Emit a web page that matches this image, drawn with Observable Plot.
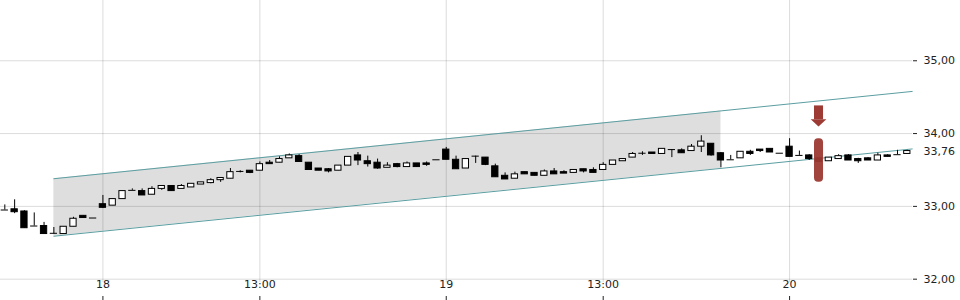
<!DOCTYPE html>
<html>
<head>
<meta charset="utf-8">
<script src="https://cdn.jsdelivr.net/npm/d3@7"></script>
<script src="https://cdn.jsdelivr.net/npm/@observablehq/plot@0.6"></script>
<style>
  html, body { margin: 0; padding: 0; background: #fff; }
  #chart { width: 960px; height: 300px; }
</style>
</head>
<body>
<div id="chart"></div>
<script>
// 15-minute candles, index 0 = first visible candle
const opens  = [32.95,32.96,32.93,32.73,32.73,32.63,32.62,32.72,32.87,32.84,
                33.03,33.01,33.10,33.22,33.21,33.16,33.24,33.28,33.24,33.26,
                33.30,33.32,33.36,33.38,33.48,33.49,33.49,33.60,33.60,33.66,
                33.69,33.60,33.52,33.51,33.49,33.56,33.70,33.62,33.60,33.53,
                33.58,33.54,33.59,33.59,33.64,33.78,33.64,33.52,33.69,33.67,
                33.55,33.42,33.38,33.47,33.46,33.42,33.48,33.47,33.46,33.51,
                33.50,33.50,33.57,33.62,33.67,33.73,33.74,33.72,33.78,33.77,
                33.76,33.82,33.86,33.73,33.64,33.66,33.75,33.78,33.79,33.73,
                33.82,33.70,33.70,33.66,33.62,33.65,33.70,33.65,33.66,33.63,
                33.70,33.71,33.72];
const highs  = [33.02,33.09,32.94,32.91,32.78,32.71,32.72,32.85,32.87,32.84,
                33.15,33.10,33.21,33.24,33.24,33.27,33.28,33.28,33.30,33.31,
                33.33,33.38,33.39,33.52,33.49,33.49,33.61,33.63,33.68,33.72,
                33.71,33.60,33.52,33.52,33.56,33.68,33.74,33.69,33.65,33.60,
                33.59,33.61,33.59,33.61,33.64,33.81,33.69,33.65,33.69,33.67,
                33.58,33.46,33.47,33.47,33.46,33.50,33.52,33.49,33.50,33.51,
                33.53,33.60,33.63,33.65,33.74,33.75,33.74,33.79,33.78,33.79,
                33.85,33.97,33.86,33.74,33.70,33.75,33.77,33.78,33.79,33.73,
                33.93,33.76,33.71,33.66,33.67,33.71,33.71,33.66,33.67,33.73,
                33.71,33.77,33.77];
const lows   = [32.95,32.90,32.70,32.73,32.62,32.62,32.62,32.72,32.84,32.84,
                32.97,33.01,33.10,33.22,33.15,33.16,33.22,33.21,33.24,33.26,
                33.30,33.31,33.33,33.38,33.46,33.45,33.49,33.58,33.60,33.66,
                33.61,33.50,33.49,33.46,33.49,33.56,33.56,33.54,33.51,33.53,
                33.53,33.54,33.54,33.55,33.64,33.64,33.51,33.52,33.59,33.56,
                33.40,33.37,33.38,33.44,33.42,33.42,33.44,33.45,33.46,33.46,
                33.46,33.50,33.57,33.62,33.67,33.70,33.72,33.72,33.67,33.73,
                33.76,33.74,33.69,33.53,33.64,33.66,33.70,33.74,33.74,33.73,
                33.68,33.70,33.63,33.61,33.62,33.65,33.63,33.59,33.63,33.63,
                33.68,33.71,33.72];
const closes = [32.95,32.92,32.70,32.73,32.62,32.63,32.72,32.83,32.84,32.84,
                32.98,33.10,33.21,33.22,33.15,33.24,33.28,33.21,33.28,33.31,
                33.33,33.36,33.39,33.47,33.48,33.46,33.58,33.58,33.65,33.70,
                33.61,33.50,33.49,33.48,33.56,33.68,33.63,33.58,33.52,33.56,
                33.54,33.59,33.54,33.57,33.64,33.64,33.51,33.65,33.69,33.57,
                33.40,33.37,33.44,33.44,33.42,33.48,33.44,33.45,33.50,33.48,
                33.46,33.57,33.63,33.65,33.72,33.73,33.72,33.79,33.78,33.73,
                33.82,33.89,33.70,33.63,33.64,33.75,33.72,33.76,33.74,33.73,
                33.68,33.70,33.65,33.61,33.67,33.69,33.63,33.62,33.63,33.70,
                33.68,33.71,33.76];

// x-axis ticks (candle index) and labels
const xTickIdx    = [10, 26, 45, 61, 80];
const xTickLabels = ["18", "13:00", "19", "13:00", "20"];
const yTicks      = [32, 33, 34, 35];

// trend channel (regression channel)
const channelStartIdx = 5;
const channelShadeEndIdx = 73;
const channelLineEndIdx = 92.5;
const channelLowerAtStart = 32.59;
const channelUpperAtStart = 33.38;
const channelSlope = 0.0137; // per candle

// signal marker
const markerIdx = 83;
const markerLow = 33.33, markerHigh = 33.93;
const arrowTop = 34.38, arrowNeck = 34.19, arrowTip = 34.09;

const candles = opens.map((o, i) => ({i, open: o, high: highs[i], low: lows[i], close: closes[i]}));
const xTicks = xTickIdx.map((i, k) => ({i, label: xTickLabels[k]}));
const chan = i => ({i, lower: channelLowerAtStart + channelSlope * (i - channelStartIdx),
                       upper: channelUpperAtStart + channelSlope * (i - channelStartIdx)});
const shade = [chan(channelStartIdx), chan(channelShadeEndIdx)];
const chanLine = [chan(channelStartIdx), chan(channelLineEndIdx)];
const fmt = d => d.toFixed(2).replace(".", ",");
const last = candles[candles.length - 1];

const bw = 0.32;
const red = "#9c3a33";
const teal = "#5b9ea1";

const chart = Plot.plot({
  width: 960,
  height: 300,
  marginLeft: 0,
  marginRight: 48,
  marginTop: 0,
  marginBottom: 4,
  x: {type: "linear", domain: [-0.44, 92.53], axis: null, label: null},
  y: {domain: [31.762, 35.828], axis: null, label: null},
  style: {fontFamily: "DejaVu Sans", fontSize: "11px", color: "#222", background: "#fff"},
  marks: [
    Plot.areaY(shade, {x: "i", y1: "lower", y2: "upper", fill: "#dedede"}),
    Plot.gridY(yTicks, {stroke: "#000", strokeOpacity: 0.14}),
    Plot.gridX(xTickIdx, {stroke: "#000", strokeOpacity: 0.14, insetBottom: 14}),
    Plot.line(chanLine, {x: "i", y: "lower", stroke: teal, strokeWidth: 1}),
    Plot.line(chanLine, {x: "i", y: "upper", stroke: teal, strokeWidth: 1}),
    Plot.ruleX(candles, {x: "i", y1: "low", y2: "high", stroke: "#000", strokeWidth: 1}),
    Plot.rect(candles.filter(d => d.open !== d.close), {
      x1: d => d.i - bw, x2: d => d.i + bw, y1: "open", y2: "close",
      fill: d => d.close > d.open ? "#fff" : "#000", stroke: "#000", strokeWidth: 1
    }),
    Plot.ruleY(candles.filter(d => d.open === d.close), {
      y: "open", x1: d => d.i - bw - 0.05, x2: d => d.i + bw + 0.05, stroke: "#000", strokeWidth: 1
    }),
    Plot.rect([markerIdx], {
      x1: d => d - 0.46, x2: d => d + 0.46, y1: markerLow, y2: markerHigh,
      fill: red, fillOpacity: 0.95, rx: 4
    }),
    Plot.rect([markerIdx], {
      x1: d => d - 0.46, x2: d => d + 0.46, y1: arrowNeck, y2: arrowTop, fill: red
    }),
    Plot.areaY([{i: markerIdx - 0.8, y: arrowNeck}, {i: markerIdx, y: arrowTip}, {i: markerIdx + 0.8, y: arrowNeck}],
      {x: "i", y1: arrowNeck, y2: "y", fill: red}),
    Plot.axisY(yTicks, {anchor: "right", tickSize: 4, tickPadding: 7, tickFormat: fmt, fontSize: 11, label: null}),
    Plot.text([last], {y: "close", text: d => fmt(d.close), frameAnchor: "right", dx: 11, textAnchor: "start", fontSize: 11}),
    Plot.axisX(xTickIdx, {anchor: "bottom", tickSize: 4, tickFormat: () => "", label: null}),
    Plot.text(xTicks, {x: "i", text: "label", frameAnchor: "bottom", dy: -9, fontSize: 11})
  ]
});
document.getElementById("chart").appendChild(chart);
</script>
</body>
</html>
